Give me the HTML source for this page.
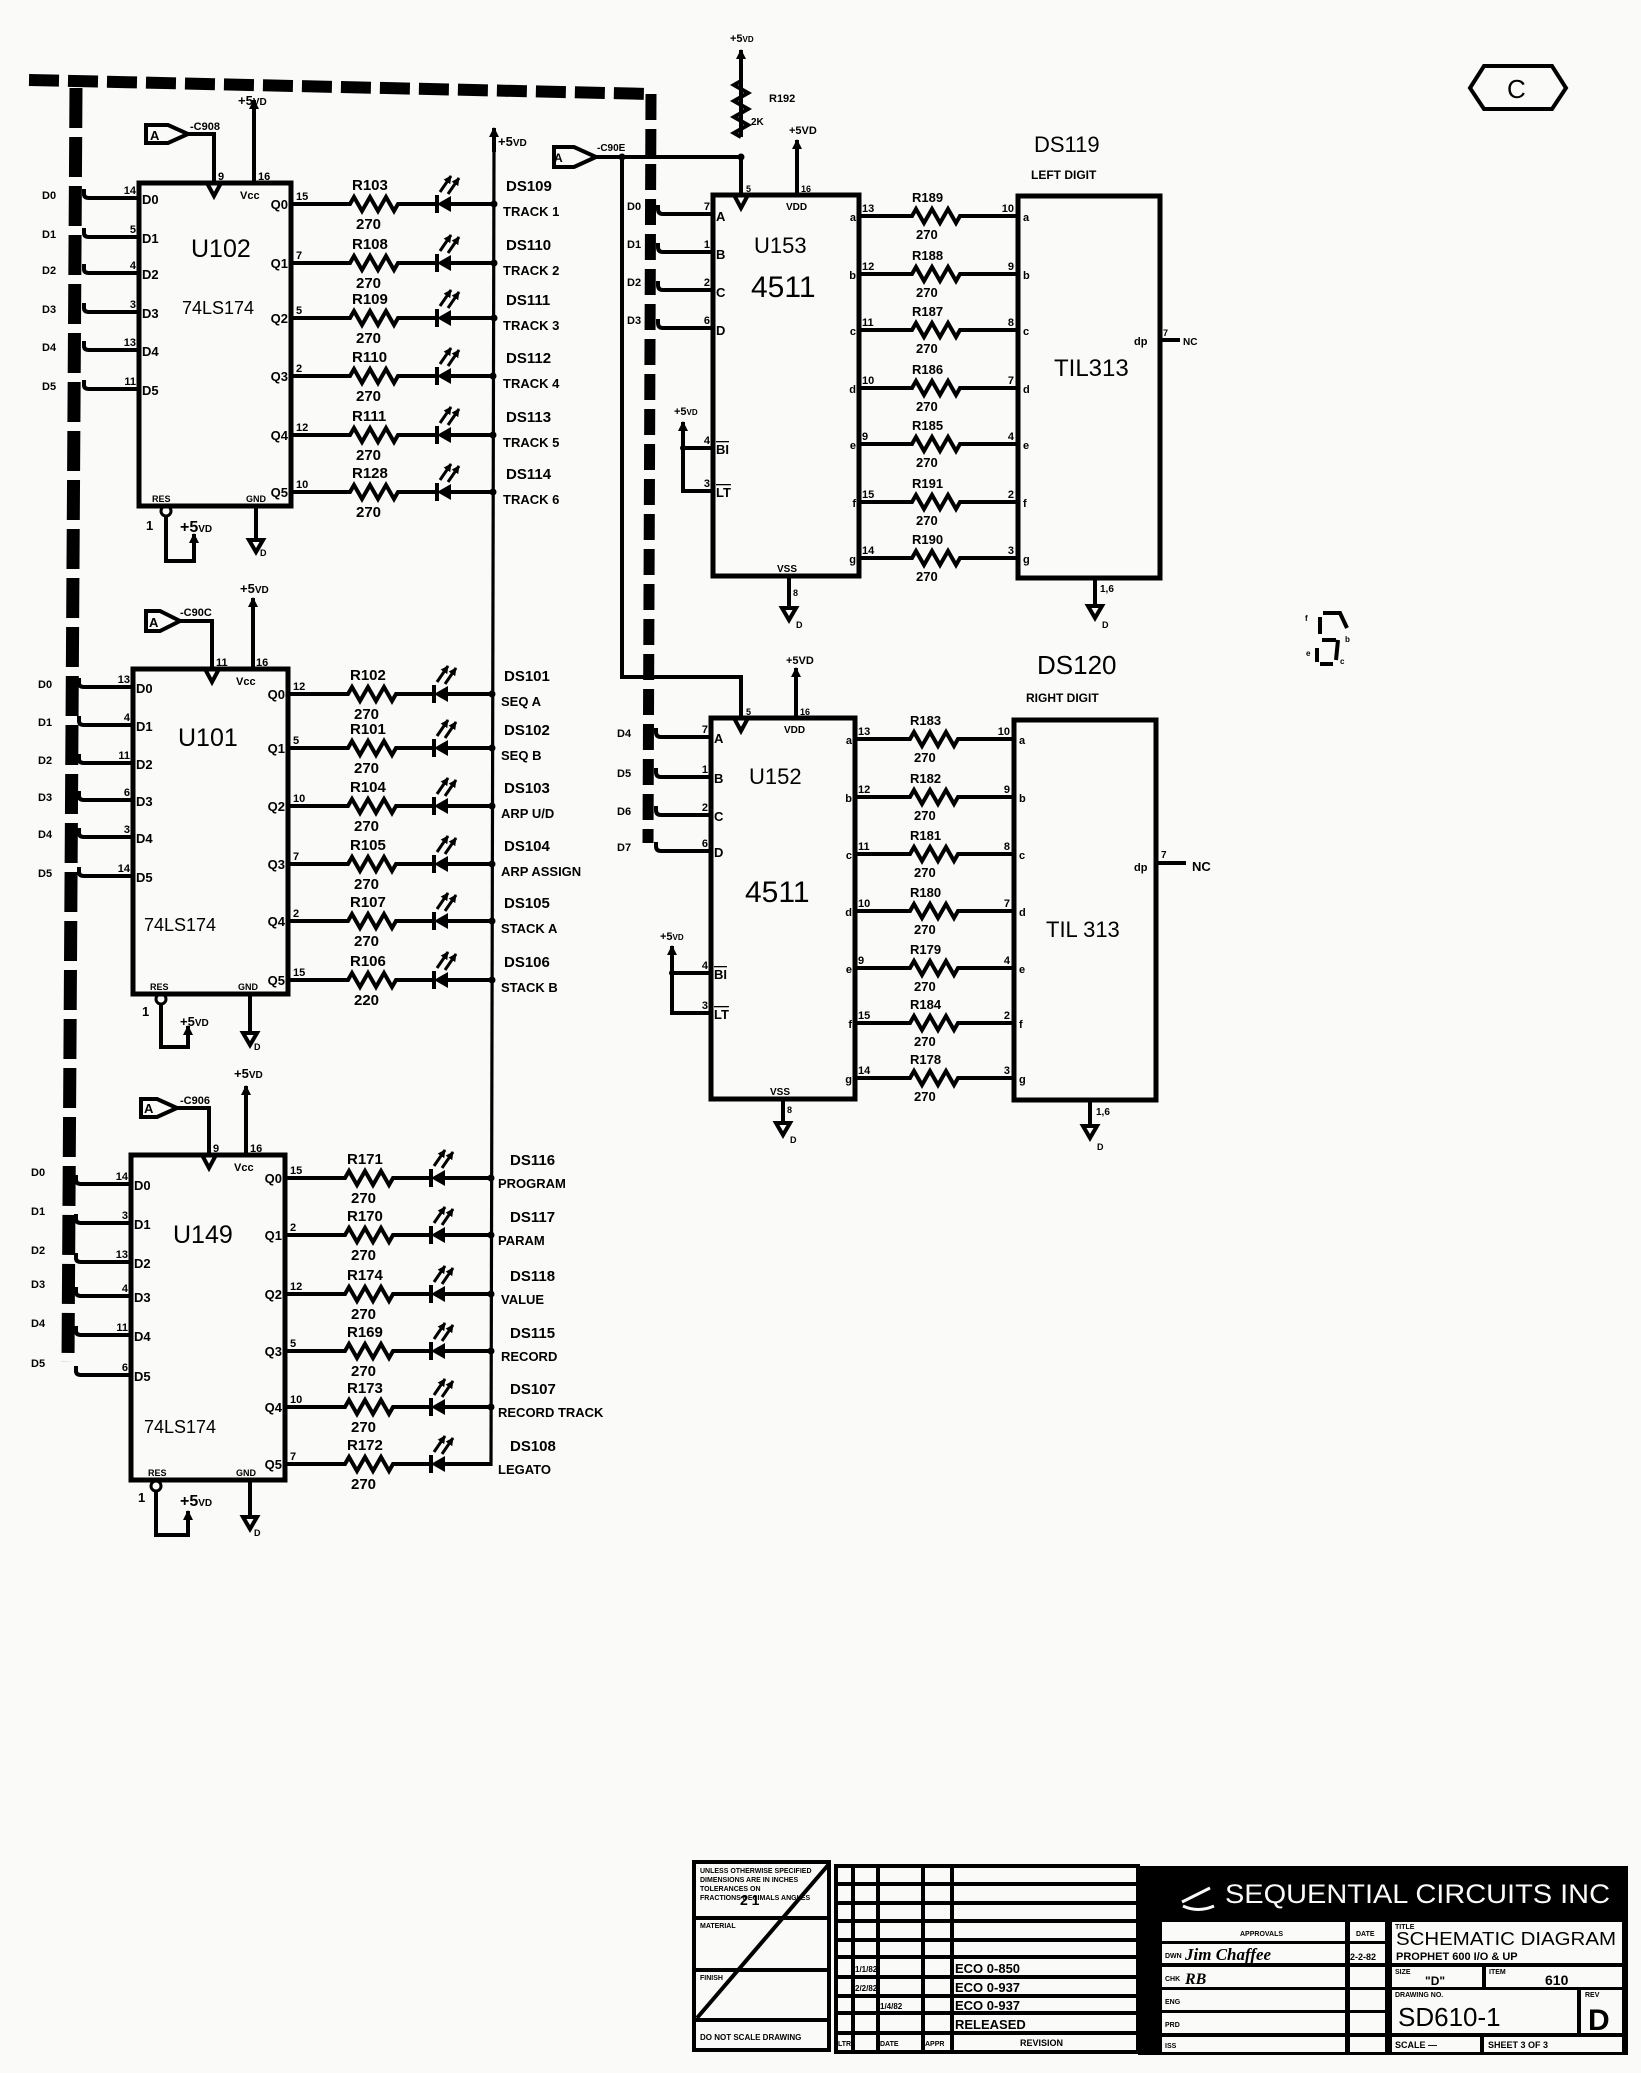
<!DOCTYPE html>
<html><head><meta charset="utf-8"><style>
html,body{margin:0;padding:0;background:#fafaf8;}
svg{display:block}
text{font-family:"Liberation Sans",sans-serif;font-weight:bold;fill:#000;stroke:none}
.l{font-size:15px}
.n{font-size:13px}
.p{font-size:11px}
.b{font-size:11px}
.chip{font-weight:normal;font-size:25px}
.t{font-size:7px}
</style></head><body>
<svg width="1641" height="2073" viewBox="0 0 1641 2073" xmlns="http://www.w3.org/2000/svg">
<defs>
<marker id="ah" viewBox="0 0 10 10" refX="9" refY="5" markerWidth="10" markerHeight="10" markerUnits="userSpaceOnUse" orient="auto"><path d="M0 0L10 5L0 10z" fill="#000"/></marker>
<marker id="as" viewBox="0 0 10 10" refX="9" refY="5" markerWidth="8" markerHeight="8" markerUnits="userSpaceOnUse" orient="auto"><path d="M0 0L10 5L0 10z" fill="#000"/></marker>
</defs>
<rect width="1641" height="2073" fill="#fafaf8"/>

<!-- dashed buses -->
<g stroke="#000" fill="none">
<path d="M29 80L650 94" stroke-width="12" stroke-dasharray="30 9"/>
<path d="M651 94L648 843" stroke-width="11" stroke-dasharray="26 9"/>
<path d="M76 88L68 1362" stroke-width="13" stroke-dasharray="40 9"/>
</g>

<g stroke="#000" stroke-width="4" fill="none" stroke-linejoin="miter">

<!-- +5V LED anode bus -->
<path d="M494 150L491 1466" stroke-width="3.2"/>
<path d="M494 152V128" marker-end="url(#ah)"/>

<!-- ================= U102 ================= -->
<rect x="139" y="183" width="152" height="323" stroke-width="5"/>
<path d="M84 189V194Q84 198 89 198H139M84 228V233Q84 237 89 237H139M84 264V269Q84 273 89 273H139M84 303V308Q84 312 89 312H139M84 341V346Q84 350 89 350H139M84 380V385Q84 389 89 389H139"/>
<path d="M291 204H350l4 -7l8 14l8 -14l8 14l8 -14l8 14l4 -7H437M451 204H494"/>
<path d="M291 263H350l4 -7l8 14l8 -14l8 14l8 -14l8 14l4 -7H437M451 263H494"/>
<path d="M291 318H350l4 -7l8 14l8 -14l8 14l8 -14l8 14l4 -7H437M451 318H494"/>
<path d="M291 376H350l4 -7l8 14l8 -14l8 14l8 -14l8 14l4 -7H437M451 376H494"/>
<path d="M291 435H350l4 -7l8 14l8 -14l8 14l8 -14l8 14l4 -7H437M451 435H494"/>
<path d="M291 492H350l4 -7l8 14l8 -14l8 14l8 -14l8 14l4 -7H437M451 492H494"/>
<path d="M437 195V213M437 254V272M437 309V327M437 367V385M437 426V444M437 483V501"/>
<g fill="#000" stroke="none">
<polygon points="437,204 451,196 451,212"/><polygon points="437,263 451,255 451,271"/><polygon points="437,318 451,310 451,326"/><polygon points="437,376 451,368 451,384"/><polygon points="437,435 451,427 451,443"/><polygon points="437,492 451,484 451,500"/>
<circle cx="494" cy="204" r="3.5"/><circle cx="494" cy="263" r="3.5"/><circle cx="494" cy="318" r="3.5"/><circle cx="493" cy="376" r="3.5"/><circle cx="493" cy="435" r="3.5"/><circle cx="493" cy="492" r="3.5"/>
</g>
<g stroke-width="3" marker-end="url(#as)">
<path d="M440 192L451 176"/><path d="M448 194L459 178"/>
<path d="M440 251L451 235"/><path d="M448 253L459 237"/>
<path d="M440 306L451 290"/><path d="M448 308L459 292"/>
<path d="M440 364L451 348"/><path d="M448 366L459 350"/>
<path d="M440 423L451 407"/><path d="M448 425L459 409"/>
<path d="M440 480L451 464"/><path d="M448 482L459 466"/>
</g>
<!-- clock/flag -->
<path d="M146 125H168L188 134L168 143H146Z"/>
<path d="M188 134H214V183"/>
<path d="M207 183H221L214 196Z"/>
<path d="M254 183V100" marker-end="url(#ah)"/>
<path d="M166 516V561H194V534" marker-end="url(#ah)"/>
<circle cx="166" cy="511" r="5" stroke-width="3"/>
<path d="M256 506V540"/>
<path d="M249 540H263L256 552Z"/>

<!-- ================= U101 ================= -->
<rect x="133" y="669" width="155" height="325" stroke-width="5"/>
<path d="M79 678V683Q79 687 84 687H133M79 716V721Q79 725 84 725H133M79 754V759Q79 763 84 763H133M79 791V796Q79 800 84 800H133M79 828V833Q79 837 84 837H133M79 867V872Q79 876 84 876H133"/>
<path d="M288 694H348l4 -7l8 14l8 -14l8 14l8 -14l8 14l4 -7H434M448 694H492"/>
<path d="M288 748H348l4 -7l8 14l8 -14l8 14l8 -14l8 14l4 -7H434M448 748H492"/>
<path d="M288 806H348l4 -7l8 14l8 -14l8 14l8 -14l8 14l4 -7H434M448 806H492"/>
<path d="M288 864H348l4 -7l8 14l8 -14l8 14l8 -14l8 14l4 -7H434M448 864H492"/>
<path d="M288 921H348l4 -7l8 14l8 -14l8 14l8 -14l8 14l4 -7H434M448 921H492"/>
<path d="M288 980H348l4 -7l8 14l8 -14l8 14l8 -14l8 14l4 -7H434M448 980H492"/>
<path d="M434 685V703M434 739V757M434 797V815M434 855V873M434 912V930M434 971V989"/>
<g fill="#000" stroke="none">
<polygon points="434,694 448,686 448,702"/><polygon points="434,748 448,740 448,756"/><polygon points="434,806 448,798 448,814"/><polygon points="434,864 448,856 448,872"/><polygon points="434,921 448,913 448,929"/><polygon points="434,980 448,972 448,988"/>
<circle cx="492" cy="694" r="3.5"/><circle cx="492" cy="748" r="3.5"/><circle cx="492" cy="806" r="3.5"/><circle cx="492" cy="864" r="3.5"/><circle cx="492" cy="921" r="3.5"/><circle cx="492" cy="980" r="3.5"/>
</g>
<g stroke-width="3" marker-end="url(#as)">
<path d="M437 682L448 666"/><path d="M445 684L456 668"/>
<path d="M437 736L448 720"/><path d="M445 738L456 722"/>
<path d="M437 794L448 778"/><path d="M445 796L456 780"/>
<path d="M437 852L448 836"/><path d="M445 854L456 838"/>
<path d="M437 909L448 893"/><path d="M445 911L456 895"/>
<path d="M437 968L448 952"/><path d="M445 970L456 954"/>
</g>
<path d="M146 611H160L180 621L160 631H146Z"/>
<path d="M180 621H212V669"/>
<path d="M205 669H219L212 682Z"/>
<path d="M253 669V598" marker-end="url(#ah)"/>
<path d="M161 1004V1047H188V1026" marker-end="url(#ah)"/>
<circle cx="161" cy="999" r="5" stroke-width="3"/>
<path d="M250 994V1033"/>
<path d="M243 1033H257L250 1045Z"/>

<!-- ================= U149 ================= -->
<rect x="131" y="1155" width="154" height="325" stroke-width="5"/>
<path d="M76 1175V1180Q76 1184 81 1184H131M76 1214V1219Q76 1223 81 1223H131M76 1253V1258Q76 1262 81 1262H131M76 1287V1292Q76 1296 81 1296H131M76 1326V1331Q76 1335 81 1335H131M76 1366V1371Q76 1375 81 1375H131"/>
<path d="M285 1178H345l4 -7l8 14l8 -14l8 14l8 -14l8 14l4 -7H431M445 1178H491"/>
<path d="M285 1235H345l4 -7l8 14l8 -14l8 14l8 -14l8 14l4 -7H431M445 1235H491"/>
<path d="M285 1294H345l4 -7l8 14l8 -14l8 14l8 -14l8 14l4 -7H431M445 1294H491"/>
<path d="M285 1351H345l4 -7l8 14l8 -14l8 14l8 -14l8 14l4 -7H431M445 1351H491"/>
<path d="M285 1407H345l4 -7l8 14l8 -14l8 14l8 -14l8 14l4 -7H431M445 1407H491"/>
<path d="M285 1464H345l4 -7l8 14l8 -14l8 14l8 -14l8 14l4 -7H431M445 1464H491"/>
<path d="M431 1169V1187M431 1226V1244M431 1285V1303M431 1342V1360M431 1398V1416M431 1455V1473"/>
<g fill="#000" stroke="none">
<polygon points="431,1178 445,1170 445,1186"/><polygon points="431,1235 445,1227 445,1243"/><polygon points="431,1294 445,1286 445,1302"/><polygon points="431,1351 445,1343 445,1359"/><polygon points="431,1407 445,1399 445,1415"/><polygon points="431,1464 445,1456 445,1472"/>
<circle cx="491" cy="1178" r="3.5"/><circle cx="491" cy="1235" r="3.5"/><circle cx="491" cy="1294" r="3.5"/><circle cx="491" cy="1351" r="3.5"/><circle cx="491" cy="1407" r="3.5"/>
</g>
<g stroke-width="3" marker-end="url(#as)">
<path d="M434 1166L445 1150"/><path d="M442 1168L453 1152"/>
<path d="M434 1223L445 1207"/><path d="M442 1225L453 1209"/>
<path d="M434 1282L445 1266"/><path d="M442 1284L453 1268"/>
<path d="M434 1339L445 1323"/><path d="M442 1341L453 1325"/>
<path d="M434 1395L445 1379"/><path d="M442 1397L453 1381"/>
<path d="M434 1452L445 1436"/><path d="M442 1454L453 1438"/>
</g>
<path d="M141 1099H157L177 1108L157 1117H141Z"/>
<path d="M177 1108H209V1155"/>
<path d="M202 1155H216L209 1168Z"/>
<path d="M246 1155V1086" marker-end="url(#ah)"/>
<path d="M156 1491V1535H188V1511" marker-end="url(#ah)"/>
<circle cx="156" cy="1486" r="5" stroke-width="3"/>
<path d="M250 1480V1517"/>
<path d="M243 1517H257L250 1529Z"/>

<!-- ================= U153 ================= -->
<rect x="713" y="195" width="146" height="381" stroke-width="5"/>
<path d="M554 147H574L596 157L574 167H554Z"/>
<path d="M596 157H741"/>
<path d="M622 157V677H741V718"/>
<path d="M741 157V195"/>
<path d="M741 137V81l-7 4l14 8l-14 8l14 8l-14 8l14 8l-14 8l7 4"/>
<path d="M741 81V50" marker-end="url(#ah)"/>
<path d="M734 195H748L741 208Z"/>
<path d="M797 195V140" marker-end="url(#ah)"/>
<path d="M658 205V209Q658 214 663 214H713M658 243V247Q658 252 663 252H713M658 281V285Q658 290 663 290H713M658 319V323Q658 328 663 328H713"/>
<path d="M683 448V491H713M683 448H713"/>
<path d="M683 448V422" marker-end="url(#ah)"/>
<path d="M789 576V608"/>
<path d="M782 608H796L789 620Z"/>
<path d="M859 216H912l4 -7l8 14l8 -14l8 14l8 -14l8 14l4 -7H1018"/>
<path d="M859 274H912l4 -7l8 14l8 -14l8 14l8 -14l8 14l4 -7H1018"/>
<path d="M859 330H912l4 -7l8 14l8 -14l8 14l8 -14l8 14l4 -7H1018"/>
<path d="M859 388H912l4 -7l8 14l8 -14l8 14l8 -14l8 14l4 -7H1018"/>
<path d="M859 444H912l4 -7l8 14l8 -14l8 14l8 -14l8 14l4 -7H1018"/>
<path d="M859 502H912l4 -7l8 14l8 -14l8 14l8 -14l8 14l4 -7H1018"/>
<path d="M859 558H912l4 -7l8 14l8 -14l8 14l8 -14l8 14l4 -7H1018"/>
<rect x="1018" y="196" width="142" height="382" stroke-width="5"/>
<path d="M1160 340H1180"/>
<path d="M1095 578V606"/>
<path d="M1088 606H1102L1095 618Z"/>
<g fill="#000" stroke="none"><circle cx="741" cy="157" r="3.5"/><circle cx="622" cy="157" r="3.5"/><circle cx="683" cy="448" r="3"/></g>

<!-- ================= U152 ================= -->
<rect x="711" y="718" width="144" height="381" stroke-width="5"/>
<path d="M734 718H748L741 731Z"/>
<path d="M796 718V668" marker-end="url(#ah)"/>
<path d="M656 728V732Q656 737 661 737H711M656 768V772Q656 777 661 777H711M656 806V810Q656 815 661 815H711M656 842V846Q656 851 661 851H711"/>
<path d="M672 973V1013H711M672 973H711"/>
<path d="M672 973V946" marker-end="url(#ah)"/>
<path d="M783 1099V1123"/>
<path d="M776 1123H790L783 1135Z"/>
<path d="M855 739H910l4 -7l8 14l8 -14l8 14l8 -14l8 14l4 -7H1014"/>
<path d="M855 797H910l4 -7l8 14l8 -14l8 14l8 -14l8 14l4 -7H1014"/>
<path d="M855 854H910l4 -7l8 14l8 -14l8 14l8 -14l8 14l4 -7H1014"/>
<path d="M855 911H910l4 -7l8 14l8 -14l8 14l8 -14l8 14l4 -7H1014"/>
<path d="M855 968H910l4 -7l8 14l8 -14l8 14l8 -14l8 14l4 -7H1014"/>
<path d="M855 1023H910l4 -7l8 14l8 -14l8 14l8 -14l8 14l4 -7H1014"/>
<path d="M855 1078H910l4 -7l8 14l8 -14l8 14l8 -14l8 14l4 -7H1014"/>
<rect x="1014" y="720" width="142" height="380" stroke-width="5"/>
<path d="M1156 863H1186"/>
<path d="M1090 1100V1126"/>
<path d="M1083 1126H1097L1090 1138Z"/>
<g fill="#000" stroke="none"><circle cx="672" cy="973" r="3"/></g>

<!-- C hexagon -->
<path d="M1470 88L1484 66H1552L1566 88L1552 109H1484Z" stroke-width="4"/>

<!-- segment icon -->
<path d="M1323 613H1340L1347 628M1320 617V634M1322 640H1336M1338 640L1336 660M1317 648V662M1320 664H1333" stroke-width="4"/>
</g>

<!-- ================= TEXT ================= -->
<!-- U102 -->
<text x="191" y="257" class="chip">U102</text>
<text x="182" y="314" class="chip" style="font-size:18px">74LS174</text>
<text x="42" y="199" class="b">D0</text><text x="42" y="238" class="b">D1</text><text x="42" y="274" class="b">D2</text><text x="42" y="313" class="b">D3</text><text x="42" y="351" class="b">D4</text><text x="42" y="390" class="b">D5</text>
<g class="p" text-anchor="end"><text x="136" y="194">14</text><text x="136" y="233">5</text><text x="136" y="269">4</text><text x="136" y="308">3</text><text x="136" y="346">13</text><text x="136" y="385">11</text></g>
<g class="n"><text x="142" y="204">D0</text><text x="142" y="243">D1</text><text x="142" y="279">D2</text><text x="142" y="318">D3</text><text x="142" y="356">D4</text><text x="142" y="395">D5</text></g>
<g class="n" text-anchor="end"><text x="288" y="209">Q0</text><text x="288" y="268">Q1</text><text x="288" y="323">Q2</text><text x="288" y="381">Q3</text><text x="288" y="440">Q4</text><text x="288" y="497">Q5</text></g>
<g class="p"><text x="296" y="200">15</text><text x="296" y="259">7</text><text x="296" y="314">5</text><text x="296" y="372">2</text><text x="296" y="431">12</text><text x="296" y="488">10</text></g>
<g class="l"><text x="352" y="190">R103</text><text x="352" y="249">R108</text><text x="352" y="304">R109</text><text x="352" y="362">R110</text><text x="352" y="421">R111</text><text x="352" y="478">R128</text>
<text x="356" y="229">270</text><text x="356" y="288">270</text><text x="356" y="343">270</text><text x="356" y="401">270</text><text x="356" y="460">270</text><text x="356" y="517">270</text>
<text x="506" y="191">DS109</text><text x="506" y="250">DS110</text><text x="506" y="305">DS111</text><text x="506" y="363">DS112</text><text x="506" y="422">DS113</text><text x="506" y="479">DS114</text></g>
<g class="n"><text x="503" y="216">TRACK 1</text><text x="503" y="275">TRACK 2</text><text x="503" y="330">TRACK 3</text><text x="503" y="388">TRACK 4</text><text x="503" y="447">TRACK 5</text><text x="503" y="504">TRACK 6</text></g>
<text x="150" y="140" class="n">A</text><text x="190" y="130" class="p">-C908</text>
<text x="218" y="180" class="p">9</text><text x="258" y="180" class="p">16</text>
<text x="240" y="199" class="p">Vcc</text>
<text x="238" y="105" class="n">+5<tspan font-size="10">VD</tspan></text>
<text x="498" y="146" class="n">+5<tspan font-size="10">VD</tspan></text>
<text x="152" y="502" class="p" style="font-size:9px">RES</text><text x="246" y="502" class="p" style="font-size:9px">GND</text>
<text x="146" y="530" class="n">1</text>
<text x="180" y="532" class="n" style="font-size:16px">+5<tspan font-size="10">VD</tspan></text>
<text x="260" y="556" class="p" style="font-size:9px">D</text>

<!-- U101 -->
<text x="178" y="746" class="chip">U101</text>
<text x="144" y="931" class="chip" style="font-size:18px">74LS174</text>
<text x="38" y="688" class="b">D0</text><text x="38" y="726" class="b">D1</text><text x="38" y="764" class="b">D2</text><text x="38" y="801" class="b">D3</text><text x="38" y="838" class="b">D4</text><text x="38" y="877" class="b">D5</text>
<g class="p" text-anchor="end"><text x="130" y="683">13</text><text x="130" y="721">4</text><text x="130" y="759">11</text><text x="130" y="796">6</text><text x="130" y="833">3</text><text x="130" y="872">14</text></g>
<g class="n"><text x="136" y="693">D0</text><text x="136" y="731">D1</text><text x="136" y="769">D2</text><text x="136" y="806">D3</text><text x="136" y="843">D4</text><text x="136" y="882">D5</text></g>
<g class="n" text-anchor="end"><text x="285" y="699">Q0</text><text x="285" y="753">Q1</text><text x="285" y="811">Q2</text><text x="285" y="869">Q3</text><text x="285" y="926">Q4</text><text x="285" y="985">Q5</text></g>
<g class="p"><text x="293" y="690">12</text><text x="293" y="744">5</text><text x="293" y="802">10</text><text x="293" y="860">7</text><text x="293" y="917">2</text><text x="293" y="976">15</text></g>
<g class="l"><text x="350" y="680">R102</text><text x="350" y="734">R101</text><text x="350" y="792">R104</text><text x="350" y="850">R105</text><text x="350" y="907">R107</text><text x="350" y="966">R106</text>
<text x="354" y="719">270</text><text x="354" y="773">270</text><text x="354" y="831">270</text><text x="354" y="889">270</text><text x="354" y="946">270</text><text x="354" y="1005">220</text>
<text x="504" y="681">DS101</text><text x="504" y="735">DS102</text><text x="504" y="793">DS103</text><text x="504" y="851">DS104</text><text x="504" y="908">DS105</text><text x="504" y="967">DS106</text></g>
<g class="n"><text x="501" y="706">SEQ A</text><text x="501" y="760">SEQ B</text><text x="501" y="818">ARP U/D</text><text x="501" y="876">ARP ASSIGN</text><text x="501" y="933">STACK A</text><text x="501" y="992">STACK B</text></g>
<text x="149" y="627" class="n">A</text><text x="180" y="616" class="p">-C90C</text>
<text x="216" y="666" class="p">11</text><text x="256" y="666" class="p">16</text>
<text x="236" y="685" class="p">Vcc</text>
<text x="240" y="593" class="n">+5<tspan font-size="10">VD</tspan></text>
<text x="150" y="990" class="p" style="font-size:9px">RES</text><text x="238" y="990" class="p" style="font-size:9px">GND</text>
<text x="142" y="1016" class="n">1</text>
<text x="180" y="1026" class="n">+5<tspan font-size="10">VD</tspan></text>
<text x="254" y="1050" class="p" style="font-size:9px">D</text>

<!-- U149 -->
<text x="173" y="1243" class="chip">U149</text>
<text x="144" y="1433" class="chip" style="font-size:18px">74LS174</text>
<text x="31" y="1176" class="b">D0</text><text x="31" y="1215" class="b">D1</text><text x="31" y="1254" class="b">D2</text><text x="31" y="1288" class="b">D3</text><text x="31" y="1327" class="b">D4</text><text x="31" y="1367" class="b">D5</text>
<g class="p" text-anchor="end"><text x="128" y="1180">14</text><text x="128" y="1219">3</text><text x="128" y="1258">13</text><text x="128" y="1292">4</text><text x="128" y="1331">11</text><text x="128" y="1371">6</text></g>
<g class="n"><text x="134" y="1190">D0</text><text x="134" y="1229">D1</text><text x="134" y="1268">D2</text><text x="134" y="1302">D3</text><text x="134" y="1341">D4</text><text x="134" y="1381">D5</text></g>
<g class="n" text-anchor="end"><text x="282" y="1183">Q0</text><text x="282" y="1240">Q1</text><text x="282" y="1299">Q2</text><text x="282" y="1356">Q3</text><text x="282" y="1412">Q4</text><text x="282" y="1469">Q5</text></g>
<g class="p"><text x="290" y="1174">15</text><text x="290" y="1231">2</text><text x="290" y="1290">12</text><text x="290" y="1347">5</text><text x="290" y="1403">10</text><text x="290" y="1460">7</text></g>
<g class="l"><text x="347" y="1164">R171</text><text x="347" y="1221">R170</text><text x="347" y="1280">R174</text><text x="347" y="1337">R169</text><text x="347" y="1393">R173</text><text x="347" y="1450">R172</text>
<text x="351" y="1203">270</text><text x="351" y="1260">270</text><text x="351" y="1319">270</text><text x="351" y="1376">270</text><text x="351" y="1432">270</text><text x="351" y="1489">270</text>
<text x="510" y="1165">DS116</text><text x="510" y="1222">DS117</text><text x="510" y="1281">DS118</text><text x="510" y="1338">DS115</text><text x="510" y="1394">DS107</text><text x="510" y="1451">DS108</text></g>
<g class="n"><text x="498" y="1188">PROGRAM</text><text x="498" y="1245">PARAM</text><text x="501" y="1304">VALUE</text><text x="501" y="1361">RECORD</text><text x="498" y="1417">RECORD TRACK</text><text x="498" y="1474">LEGATO</text></g>
<text x="144" y="1113" class="n">A</text><text x="180" y="1104" class="p">-C906</text>
<text x="213" y="1152" class="p">9</text><text x="250" y="1152" class="p">16</text>
<text x="234" y="1171" class="p">Vcc</text>
<text x="234" y="1078" class="n">+5<tspan font-size="10">VD</tspan></text>
<text x="148" y="1476" class="p" style="font-size:9px">RES</text><text x="236" y="1476" class="p" style="font-size:9px">GND</text>
<text x="138" y="1502" class="n">1</text>
<text x="180" y="1506" class="n" style="font-size:16px">+5<tspan font-size="10">VD</tspan></text>
<text x="254" y="1536" class="p" style="font-size:9px">D</text>

<!-- U153 -->
<text x="754" y="253" class="chip" style="font-size:22px">U153</text>
<text x="751" y="297" class="chip" style="font-size:30px">4511</text>
<text x="554" y="162" class="n" style="font-size:12px">A</text><text x="597" y="151" class="p" style="font-size:10px">-C90E</text>
<text x="730" y="42" class="p">+5<tspan font-size="8">VD</tspan></text>
<text x="769" y="102" class="p">R192</text><text x="751" y="125" class="p" style="font-size:10px">2K</text>
<text x="789" y="134" class="p">+5VD</text>
<text x="746" y="192" class="p" style="font-size:9px">5</text><text x="801" y="192" class="p" style="font-size:9px">16</text>
<text x="786" y="210" class="p" style="font-size:10px">VDD</text>
<g class="b"><text x="627" y="210">D0</text><text x="627" y="248">D1</text><text x="627" y="286">D2</text><text x="627" y="324">D3</text></g>
<g class="p" text-anchor="end"><text x="710" y="210">7</text><text x="710" y="248">1</text><text x="710" y="286">2</text><text x="710" y="324">6</text><text x="710" y="444">4</text><text x="710" y="487">3</text></g>
<g class="n"><text x="716" y="221">A</text><text x="716" y="259">B</text><text x="716" y="297">C</text><text x="716" y="335">D</text>
<text x="716" y="454" text-decoration="overline">BI</text><text x="716" y="497" text-decoration="overline">LT</text></g>
<text x="674" y="415" class="p">+5<tspan font-size="8">VD</tspan></text>
<text x="777" y="572" class="p" style="font-size:10px">VSS</text>
<text x="793" y="596" class="p" style="font-size:9px">8</text><text x="796" y="628" class="p" style="font-size:9px">D</text>
<g class="p" text-anchor="end"><text x="856" y="221">a</text><text x="856" y="279">b</text><text x="856" y="335">c</text><text x="856" y="393">d</text><text x="856" y="449">e</text><text x="856" y="507">f</text><text x="856" y="563">g</text></g>
<g class="p"><text x="862" y="212">13</text><text x="862" y="270">12</text><text x="862" y="326">11</text><text x="862" y="384">10</text><text x="862" y="440">9</text><text x="862" y="498">15</text><text x="862" y="554">14</text></g>
<g class="p" style="font-size:13px"><text x="912" y="202">R189</text><text x="912" y="260">R188</text><text x="912" y="316">R187</text><text x="912" y="374">R186</text><text x="912" y="430">R185</text><text x="912" y="488">R191</text><text x="912" y="544">R190</text>
<text x="916" y="239">270</text><text x="916" y="297">270</text><text x="916" y="353">270</text><text x="916" y="411">270</text><text x="916" y="467">270</text><text x="916" y="525">270</text><text x="916" y="581">270</text></g>
<g class="p" text-anchor="end"><text x="1014" y="212">10</text><text x="1014" y="270">9</text><text x="1014" y="326">8</text><text x="1014" y="384">7</text><text x="1014" y="440">4</text><text x="1014" y="498">2</text><text x="1014" y="554">3</text></g>
<g class="p"><text x="1023" y="221">a</text><text x="1023" y="279">b</text><text x="1023" y="335">c</text><text x="1023" y="393">d</text><text x="1023" y="449">e</text><text x="1023" y="507">f</text><text x="1023" y="563">g</text></g>
<text x="1054" y="376" class="chip" style="font-size:24px">TIL313</text>
<text x="1134" y="345" class="p">dp</text><text x="1163" y="336" class="p" style="font-size:9px">7</text><text x="1183" y="345" class="p" style="font-size:10px">NC</text>
<text x="1034" y="152" class="chip" style="font-size:22px">DS119</text>
<text x="1031" y="179" class="p" style="font-size:12px">LEFT DIGIT</text>
<text x="1100" y="592" class="p" style="font-size:10px">1,6</text><text x="1102" y="628" class="p" style="font-size:9px">D</text>

<!-- U152 -->
<text x="749" y="784" class="chip" style="font-size:22px">U152</text>
<text x="745" y="902" class="chip" style="font-size:30px">4511</text>
<text x="786" y="664" class="p">+5VD</text>
<text x="746" y="715" class="p" style="font-size:9px">5</text><text x="800" y="715" class="p" style="font-size:9px">16</text>
<text x="784" y="733" class="p" style="font-size:10px">VDD</text>
<g class="b"><text x="617" y="737">D4</text><text x="617" y="777">D5</text><text x="617" y="815">D6</text><text x="617" y="851">D7</text></g>
<g class="p" text-anchor="end"><text x="708" y="733">7</text><text x="708" y="773">1</text><text x="708" y="811">2</text><text x="708" y="847">6</text><text x="708" y="969">4</text><text x="708" y="1009">3</text></g>
<g class="n"><text x="714" y="743">A</text><text x="714" y="783">B</text><text x="714" y="821">C</text><text x="714" y="857">D</text>
<text x="714" y="979" text-decoration="overline">BI</text><text x="714" y="1019" text-decoration="overline">LT</text></g>
<text x="660" y="940" class="p">+5<tspan font-size="8">VD</tspan></text>
<text x="770" y="1095" class="p" style="font-size:10px">VSS</text>
<text x="787" y="1113" class="p" style="font-size:9px">8</text><text x="790" y="1143" class="p" style="font-size:9px">D</text>
<g class="p" text-anchor="end"><text x="852" y="744">a</text><text x="852" y="802">b</text><text x="852" y="859">c</text><text x="852" y="916">d</text><text x="852" y="973">e</text><text x="852" y="1028">f</text><text x="852" y="1083">g</text></g>
<g class="p"><text x="858" y="735">13</text><text x="858" y="793">12</text><text x="858" y="850">11</text><text x="858" y="907">10</text><text x="858" y="964">9</text><text x="858" y="1019">15</text><text x="858" y="1074">14</text></g>
<g class="p" style="font-size:13px"><text x="910" y="725">R183</text><text x="910" y="783">R182</text><text x="910" y="840">R181</text><text x="910" y="897">R180</text><text x="910" y="954">R179</text><text x="910" y="1009">R184</text><text x="910" y="1064">R178</text>
<text x="914" y="762">270</text><text x="914" y="820">270</text><text x="914" y="877">270</text><text x="914" y="934">270</text><text x="914" y="991">270</text><text x="914" y="1046">270</text><text x="914" y="1101">270</text></g>
<g class="p" text-anchor="end"><text x="1010" y="735">10</text><text x="1010" y="793">9</text><text x="1010" y="850">8</text><text x="1010" y="907">7</text><text x="1010" y="964">4</text><text x="1010" y="1019">2</text><text x="1010" y="1074">3</text></g>
<g class="p"><text x="1019" y="744">a</text><text x="1019" y="802">b</text><text x="1019" y="859">c</text><text x="1019" y="916">d</text><text x="1019" y="973">e</text><text x="1019" y="1028">f</text><text x="1019" y="1083">g</text></g>
<text x="1046" y="937" class="chip" style="font-size:22px">TIL 313</text>
<text x="1134" y="871" class="p">dp</text><text x="1161" y="858" class="p" style="font-size:10px">7</text><text x="1192" y="871" class="n">NC</text>
<text x="1037" y="674" class="chip" style="font-size:26px">DS120</text>
<text x="1026" y="702" class="p" style="font-size:12px">RIGHT DIGIT</text>
<text x="1096" y="1115" class="p" style="font-size:10px">1,6</text><text x="1097" y="1150" class="p" style="font-size:9px">D</text>

<text x="1507" y="98" class="chip" style="font-size:26px">C</text>
<g class="p" style="font-size:8px"><text x="1305" y="621">f</text><text x="1345" y="642">b</text><text x="1306" y="656">e</text><text x="1340" y="664">c</text></g>

<!-- ================= TITLE BLOCK ================= -->
<g stroke="#000" fill="none" stroke-width="4">
<rect x="694" y="1862" width="135" height="188"/>
<path d="M694 1918H829M694 1970H829M694 2020H829M829 1864L697 2018"/>
<rect x="836" y="1866" width="302" height="186"/>
<path d="M836 1884H1138M836 1903H1138M836 1921H1138M836 1940H1138M836 1957H1138M836 1977H1138M836 1996H1138M836 2013H1138M836 2033H1138"/>
<path d="M853 1866V2052M878 1866V2052M923 1866V2052M952 1866V2052"/>
</g>
<rect x="1138" y="1866" width="490" height="189" fill="#000"/>
<g fill="#fafaf8">
<rect x="1162" y="1922" width="183" height="19"/><rect x="1350" y="1922" width="35" height="19"/>
<rect x="1162" y="1944" width="183" height="19"/><rect x="1350" y="1944" width="35" height="19"/>
<rect x="1162" y="1967" width="183" height="20"/><rect x="1350" y="1967" width="35" height="20"/>
<rect x="1162" y="1990" width="183" height="20"/><rect x="1350" y="1990" width="35" height="20"/>
<rect x="1162" y="2013" width="183" height="20"/><rect x="1350" y="2013" width="35" height="20"/>
<rect x="1162" y="2037" width="183" height="15"/><rect x="1350" y="2037" width="35" height="15"/>
<rect x="1392" y="1922" width="230" height="41"/>
<rect x="1392" y="1967" width="90" height="20"/><rect x="1486" y="1967" width="136" height="20"/>
<rect x="1392" y="1990" width="185" height="43"/><rect x="1581" y="1990" width="41" height="43"/>
<rect x="1392" y="2037" width="88" height="15"/><rect x="1484" y="2037" width="138" height="15"/>
</g>
<g fill="#fafaf8" style="font-family:'Liberation Sans',sans-serif;font-weight:bold;font-size:11px">
<text x="1142" y="1880" fill="#fafaf8">J</text><text x="1142" y="1898" fill="#fafaf8">H</text><text x="1142" y="1916" fill="#fafaf8">G</text><text x="1142" y="1935" fill="#fafaf8">F</text><text x="1142" y="1953" fill="#fafaf8">E</text><text x="1142" y="1972" fill="#fafaf8">D</text><text x="1142" y="1991" fill="#fafaf8">C</text><text x="1142" y="2009" fill="#fafaf8">B</text><text x="1142" y="2028" fill="#fafaf8">A</text><text x="1141" y="2047" fill="#fafaf8" style="font-size:7px">LTR</text>
</g>
<path d="M1182 1902L1210 1888M1183 1906Q1198 1913 1214 1906" stroke="#fafaf8" stroke-width="3" fill="none"/>
<text x="1225" y="1903" style="fill:#fafaf8;font-size:27px;font-weight:normal" textLength="385" lengthAdjust="spacingAndGlyphs">SEQUENTIAL CIRCUITS INC</text>

<g class="t">
<text x="700" y="1873">UNLESS OTHERWISE SPECIFIED</text><text x="700" y="1882">DIMENSIONS ARE IN INCHES</text><text x="700" y="1891">TOLERANCES ON</text><text x="700" y="1900">FRACTIONS DECIMALS ANGLES</text>
<text x="700" y="1928">MATERIAL</text><text x="700" y="1980">FINISH</text><text x="700" y="2040" style="font-size:8px">DO NOT SCALE DRAWING</text>
<text x="1240" y="1936">APPROVALS</text><text x="1356" y="1936">DATE</text>
<text x="1165" y="1958">DWN</text><text x="1165" y="1981">CHK</text><text x="1165" y="2004">ENG</text><text x="1165" y="2027">PRD</text><text x="1165" y="2048">ISS</text>
<text x="1395" y="1929">TITLE</text><text x="1395" y="1974">SIZE</text><text x="1489" y="1974">ITEM</text><text x="1395" y="1997">DRAWING NO.</text><text x="1585" y="1997">REV</text>
<text x="1395" y="2048" style="font-size:9px">SCALE —</text><text x="1488" y="2048" style="font-size:9px">SHEET 3 OF 3</text>
<text x="838" y="2046">LTR</text><text x="880" y="2046">DATE</text><text x="925" y="2046">APPR</text><text x="1020" y="2046" style="font-size:9px">REVISION</text>
</g>
<text x="740" y="1905" style="font-size:14px">2 1</text>
<text x="1185" y="1960" style="font-family:'Liberation Serif',serif;font-style:italic;font-size:17px">Jim Chaffee</text>
<text x="1350" y="1960" style="font-size:9px">2-2-82</text>
<text x="1185" y="1984" style="font-family:'Liberation Serif',serif;font-style:italic;font-size:16px">RB</text>
<text x="1396" y="1945" style="font-size:18px;font-weight:normal" textLength="220" lengthAdjust="spacingAndGlyphs">SCHEMATIC DIAGRAM</text>
<text x="1396" y="1960" style="font-size:11px">PROPHET 600 I/O &amp; UP</text>
<text x="1425" y="1985" style="font-size:12px">"D"</text><text x="1545" y="1985" style="font-size:14px">610</text>
<text x="1398" y="2026" style="font-size:26px;font-weight:normal">SD610-1</text>
<text x="1588" y="2030" style="font-size:30px">D</text>
<g style="font-size:13px">
<text x="955" y="1973">ECO 0-850</text><text x="955" y="1992">ECO 0-937</text><text x="955" y="2010">ECO 0-937</text><text x="955" y="2029">RELEASED</text>
</g>
<g style="font-size:8px">
<text x="855" y="1972">1/1/82</text><text x="855" y="1991">2/2/82</text><text x="880" y="2009">1/4/82</text>
</g>
</svg>
</body></html>
